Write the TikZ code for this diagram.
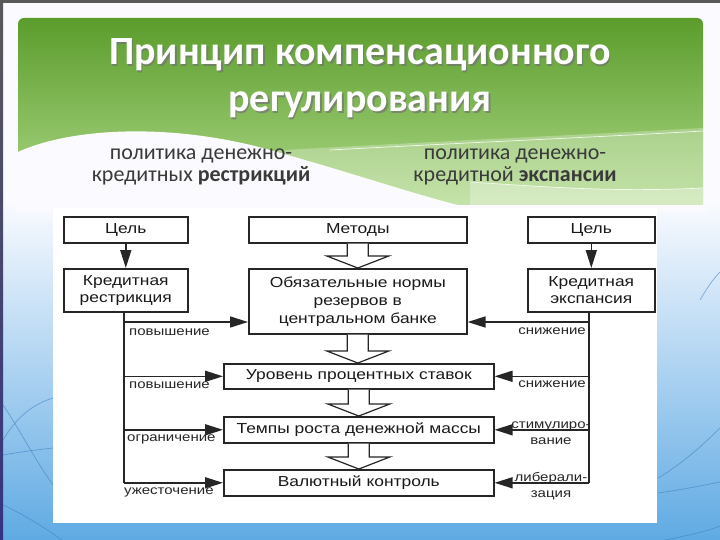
\documentclass[tikz,border=0pt]{standalone}
\usepackage{fontspec}
\setmainfont{Liberation Sans}
\newfontfamily\diag[FakeStretch=1.2]{Liberation Sans}
\newfontfamily\ttlfont{Carlito}
\usetikzlibrary{arrows.meta,calc}
\definecolor{lineC}{HTML}{262626}
\definecolor{gTop}{HTML}{5B9C2C}
\definecolor{gBot}{HTML}{B0DA8A}
\definecolor{blueB}{HTML}{5FAAE3}
\definecolor{blueL}{HTML}{3F82C0}
\definecolor{subC}{HTML}{3A3A3A}
\tikzset{
  box/.style={draw=lineC, line width=1.6pt, fill=white, inner sep=0pt, anchor=north west,
    font=\diag\fontsize{14.5}{17}\selectfont, align=center, text=black!90},
  conn/.style={draw=lineC, line width=1.6pt},
  arr/.style={conn, -{Triangle[length=18pt,width=11pt]}},
  lbl/.style={font=\diag\fontsize{12.5}{16}\selectfont, text=black!85, inner sep=0pt},
  hollow/.style={draw=lineC, line width=1.2pt, fill=white, line join=miter},
  sidel/.style={draw=blueL, line width=0.7pt, opacity=0.6},
  ttl/.style={font=\ttlfont\bfseries\fontsize{40}{47}\selectfont, inner sep=0pt, anchor=base},
  sub/.style={font=\ttlfont\fontsize{22}{24}\selectfont, text=subC, inner sep=0pt, anchor=base}
}
\newcommand\blockarr[2]{%
  \draw[hollow] let \p1=(#1.south), \p2=(#2.north) in
    (\x1-10.5pt,\y1) -- (\x1-10.5pt,\y2+12pt) -- (\x1-31pt,\y2+12pt) -- (\x1,\y2)
    -- (\x1+31pt,\y2+12pt) -- (\x1+10.5pt,\y2+12pt) -- (\x1+10.5pt,\y1);}
\begin{document}
\begin{tikzpicture}[x=1pt,y=-1pt]
\useasboundingbox (0,0) rectangle (720,540);
% slide background
\fill[white!96!blue!40] (0,0) rectangle (720,540);
\shade[top color=white!96!blue!40, bottom color=blueB] (0,200) rectangle (720,540);
% side lines
\draw[sidel] (3,405) .. controls (20,430) and (35,460) .. (53,485);
\draw[sidel] (3,455) .. controls (20,452) and (35,450) .. (53,448);
\draw[sidel] (3,440) .. controls (15,420) and (30,405) .. (53,398);
\draw[sidel] (3,505) .. controls (25,515) and (45,528) .. (62,540);
\draw[sidel] (658,478) .. controls (680,465) and (700,448) .. (720,428);
\draw[sidel] (658,493) .. controls (680,490) and (700,486) .. (720,482);
\draw[sidel] (665,540) .. controls (685,536) and (705,532) .. (720,526);
\draw[sidel] (700,300) .. controls (706,290) and (712,280) .. (720,272);
% borders
\fill[black!65] (0,0) rectangle (720,3);
\shade[top color=black!65, bottom color=blue!40!black!80] (0,0) rectangle (3,540);
% header
\shade[top color=gTop, bottom color=gBot, rounded corners=6pt] (18,210) -- (18,18) -- (703,18) -- (703,210) -- cycle;
\fill[white, opacity=0.28] (250,152) .. controls (420,142) and (560,136) .. (703,128) -- (703,210) -- (250,210) -- cycle;
\draw[white, opacity=0.85, line width=0.7pt] (330,150) .. controls (480,142) and (600,137) .. (703,131);
\fill[white, opacity=0.3] (470,182) .. controls (560,188) and (620,192) .. (703,188) -- (703,210) -- (470,210) -- cycle;
\draw[white, opacity=0.8, line width=0.7pt] (470,182) .. controls (560,188) and (620,192) .. (703,188);
\fill[white!96!blue!40] (18,152) .. controls (70,128) and (170,122) .. (270,150) .. controls (370,178) and (430,200) .. (480,210) -- (18,210) -- cycle;
\fill[white!96!blue!40] (15,205) rectangle (706,212);
% title
\node[ttl, text=black!55, opacity=0.7] (t1s) at (361.5,66.5) {Принцип компенсационного};
\node[ttl, text=black!55, opacity=0.7] (t2s) at (361.5,113.5) {регулирования};
\node[ttl, text=white] (t1) at (360,65) {Принцип компенсационного};
\node[ttl, text=white] (t2) at (360,112) {регулирования};
% subtitles
\node[sub] (s1) at (201,160) {политика денежно-};
\node[sub] (s2) at (201,182) {кредитных \textbf{рестрикций}};
\node[sub] (s3) at (515,160) {политика денежно-};
\node[sub] (s4) at (515,182) {кредитной \textbf{экспансии}};
% panel
\fill[white] (53,208) rectangle (657,523);
% boxes
\node[box, minimum width=124pt, minimum height=26pt] (lgoal) at (63,216) {Цель};
\node[box, minimum width=218pt, minimum height=26pt] (meth) at (248,216) {Методы};
\node[box, minimum width=127pt, minimum height=26pt] (rgoal) at (527,216) {Цель};
\node[box, minimum width=124pt, minimum height=43pt] (lres) at (63,268) {Кредитная\\рестрикция};
\node[box, minimum width=127pt, minimum height=43pt] (rexp) at (527,268) {Кредитная\\экспансия};
\node[box, minimum width=218pt, minimum height=65pt, font=\diag\fontsize{14.5}{18}\selectfont] (oblig) at (248,268) {Обязательные нормы\\резервов в\\центральном банке};
\node[box, minimum width=270pt, minimum height=25pt] (rate) at (223,363) {Уровень процентных ставок};
\node[box, minimum width=270pt, minimum height=26pt] (money) at (223,416) {Темпы роста денежной массы};
\node[box, minimum width=270pt, minimum height=26pt] (fx) at (223,469) {Валютный контроль};
% block arrows
\blockarr{meth}{oblig}
\blockarr{oblig}{rate}
\blockarr{rate}{money}
\blockarr{money}{fx}
% goal arrows
\draw[arr] (lgoal) -- (lres);
\draw[arr] (rgoal) -- (rexp);
% left connectors
\coordinate (lo) at (124,322);
\coordinate (ro) at (589,322);
\draw[conn] (lres.south -| lo) -- (lo |- fx.west);
\draw[arr] (lo) -- (lo -| oblig.west);
\draw[arr] (lo |- rate.west) -- (rate.west);
\draw[arr] (lo |- money.west) -- (money.west);
\draw[arr] (lo |- fx.west) -- (fx.west);
% right connectors
\draw[conn] (rexp.south -| ro) -- (ro |- fx.east);
\draw[arr] (ro) -- (ro -| oblig.east);
\draw[arr] (ro |- rate.east) -- (rate.east);
\draw[arr] (ro |- money.east) -- (money.east);
\draw[arr] (ro |- fx.east) -- (fx.east);
% labels left
\node[lbl, anchor=base west] (la) at (129,335) {повышение};
\node[lbl, anchor=base west] (lb) at (129,388) {повышение};
\node[lbl, anchor=base west] (lc) at (127,441) {ограничение};
\node[lbl, anchor=base west] (ld) at (124,494) {ужесточение};
% labels right
\node[lbl, anchor=base east] (ra) at (586,334) {снижение};
\node[lbl, anchor=base east] (rb) at (586,387) {снижение};
\node[lbl, anchor=base, align=center] (rc) at (551,444) {стимулиро-\\вание};
\node[lbl, anchor=base, align=center] (rd) at (551,497) {либерали-\\зация};
\end{tikzpicture}
\end{document}
